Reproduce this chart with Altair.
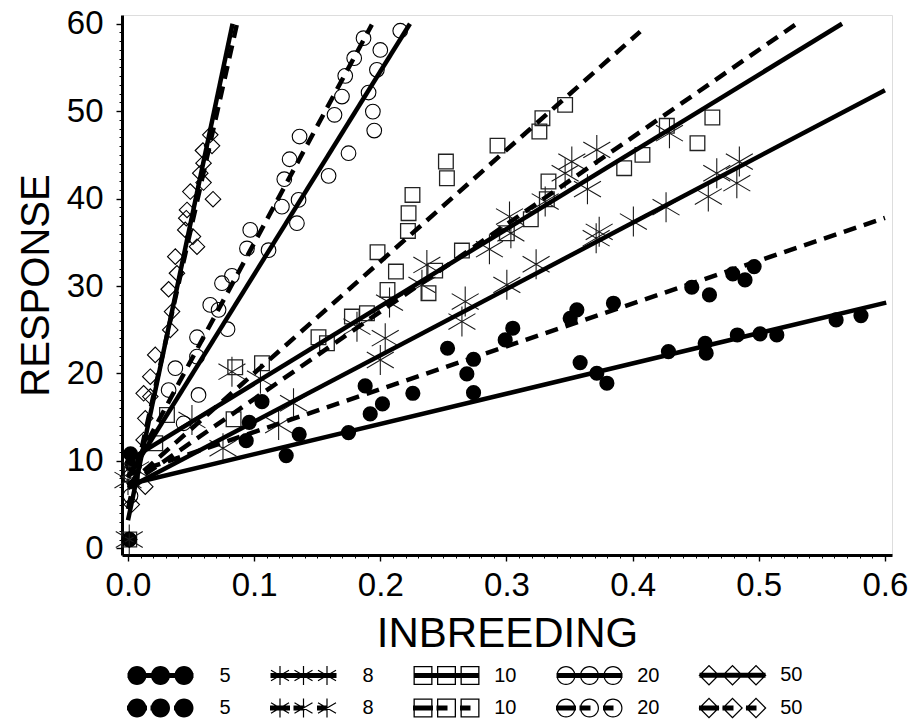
import altair as alt
import pandas as pd

# ---------------- data ----------------
# observed response against inbreeding, one list pair per population size
x5 = [0.001, 0.002, 0.003, 0.0937, 0.0961, 0.1062, 0.1254, 0.1357, 0.1748, 0.188, 0.192,
      0.2017, 0.2258, 0.2533, 0.2686, 0.2739, 0.2739, 0.299, 0.305, 0.3505, 0.3558, 0.3584,
      0.3716, 0.3796, 0.3848, 0.4284, 0.4469, 0.4575, 0.4583, 0.4609, 0.4794, 0.483, 0.4891,
      0.4963, 0.501, 0.5143, 0.5613, 0.581]
y5 = [1.0, 10.8, 9.6, 12.31, 14.41, 16.77, 10.6, 13.04, 13.23, 18.57, 15.37,
      16.51, 17.73, 22.88, 19.94, 21.62, 17.8, 23.83, 25.17, 26.3, 27.27, 21.24,
      20.02, 18.88, 28.03, 22.5, 29.86, 23.45, 22.31, 28.98, 31.38, 24.4, 30.7,
      32.22, 24.52, 24.4, 26.12, 26.62]

x8 = [0.001, 0.0, 0.006, 0.0507, 0.0753, 0.0824, 0.105, 0.1194, 0.1312, 0.1815, 0.2,
      0.2039, 0.2073, 0.233, 0.2369, 0.2647, 0.2673, 0.2865, 0.3003, 0.3024, 0.3035,
      0.3235, 0.3307, 0.3465, 0.3518, 0.3642, 0.3711, 0.3716, 0.3735, 0.4006, 0.4265,
      0.4292, 0.46, 0.4667, 0.4826, 0.4846]
y8 = [1.0, 7.8, 9.0, 14.68, 11.44, 20.2, 19.4, 14.1, 16.59, 25.35, 21.54,
      24.03, 28.1, 30.13, 32.41, 25.93, 28.22, 34.21, 30.13, 37.94, 36.04,
      32.49, 39.66, 42.9, 44.23, 41.08, 35.47, 45.57, 36.2, 37.37, 39.02,
      47.48, 40.23, 42.9, 41.76, 44.23]

x10 = [0.001, 0.003, 0.0216, 0.0309, 0.0837, 0.085, 0.1062, 0.151, 0.1577, 0.1775, 0.1894,
       0.1978, 0.2057, 0.2124, 0.2219, 0.2224, 0.2255, 0.2382, 0.2435, 0.252, 0.2528,
       0.2647, 0.2929, 0.3003, 0.3193, 0.3261, 0.3285, 0.332, 0.3333, 0.3465, 0.3933,
       0.4078, 0.4271, 0.4514, 0.4632]
y10 = [1.0, 8.5, 12.01, 15.25, 14.76, 20.71, 21.17, 24.14, 23.45, 26.5, 26.89,
       33.87, 29.55, 31.65, 36.3, 38.33, 40.42, 29.18, 31.76, 44.23, 42.33,
       34.05, 46.06, 36.04, 37.64, 47.67, 49.2, 39.93, 41.95, 50.72, 43.48,
       45.0, 48.32, 46.34, 49.27]

x20 = [0.001, 0.002, 0.005, 0.0322, 0.0375, 0.0441, 0.0547, 0.0547, 0.0559, 0.0652, 0.0718,
       0.0745, 0.0789, 0.0824, 0.0943, 0.0969, 0.1114, 0.122, 0.1239, 0.1281, 0.1339,
       0.1352, 0.136, 0.159, 0.1637, 0.1696, 0.1722, 0.1748, 0.1793, 0.1867, 0.1907,
       0.1941, 0.1952, 0.1973, 0.2, 0.2158]
y20 = [1.0, 6.0, 9.5, 18.1, 20.6, 14.3, 24.14, 21.92, 17.54, 27.84, 27.27,
       30.32, 25.06, 31.16, 34.3, 36.42, 34.1, 39.08, 42.22, 44.5, 37.18,
       39.85, 47.1, 42.6, 49.58, 51.67, 54.04, 45.19, 56.06, 58.35, 52.13,
       49.95, 47.78, 54.73, 57.0, 59.2]

x50 = [0.001, 0.0, 0.003, 0.0124, 0.0137, 0.0124, 0.0137, 0.0177, 0.0177, 0.0216, 0.0335,
       0.0349, 0.0322, 0.0388, 0.0375, 0.0454, 0.0462, 0.0468, 0.0494, 0.0515, 0.0547,
       0.0573, 0.0594, 0.0599, 0.0599, 0.0652, 0.0666, 0.0674]
y50 = [1.0, 8.2, 5.0, 17.73, 14.87, 12.39, 7.05, 19.63, 17.35, 22.12, 24.98,
       27.07, 29.63, 31.46, 33.36, 36.42, 37.76, 38.7, 40.8, 35.65, 34.5,
       42.9, 45.5, 44.05, 41.83, 47.3, 46.03, 39.93]

# fitted response lines: population size, fit type, start and end points
line_n = ["5", "5", "8", "8", "10", "10", "20", "20", "50", "50"]
line_kind = ["solid", "dashed"] * 5
line_x0 = [0.0, 0.0, 0.0, 0.0, 0.0, 0.0, 0.0, 0.0, 0.0, 0.0]
line_y0 = [7.3, 8.4, 6.9, 7.1, 10.0, 7.25, 8.1, 8.1, 3.2, 4.5]
line_x1 = [0.601, 0.600, 0.600, 0.529, 0.566, 0.406, 0.2235, 0.1933, 0.0829, 0.0864]
line_y1 = [28.1, 37.8, 52.4, 59.9, 60.0, 59.1, 60.0, 59.9, 60.0, 60.0]

legend_labels = ["5", "8", "10", "20", "50"]

# axis tick positions
x_major = [0.0, 0.1, 0.2, 0.3, 0.4, 0.5, 0.6]
x_minor = [round(i * 0.01, 2) for i in range(61)]
y_major = [0, 10, 20, 30, 40, 50, 60]
y_minor = list(range(61))

# ---------------- tables ----------------
groups = {"5": (x5, y5), "8": (x8, y8), "10": (x10, y10), "20": (x20, y20), "50": (x50, y50)}
pts = pd.DataFrame(
    [{"n": n, "inbreeding": x, "response": y} for n, (xs, ys) in groups.items() for x, y in zip(xs, ys)]
)
rows = []
for i in range(len(line_n)):
    key = f"{line_n[i]} {line_kind[i]}"
    rows.append({"key": key, "kind": line_kind[i], "inbreeding": line_x0[i], "response": line_y0[i]})
    rows.append({"key": key, "kind": line_kind[i], "inbreeding": line_x1[i], "response": line_y1[i]})
lines = pd.DataFrame(rows)

# ---------------- legend glyphs (filled SVG paths, px units then normalised) ----------------
SYM = 20.0        # nominal legend symbol box (px); glyphs are drawn wider than it
U = SYM / 2       # px per path unit
HALF = 33.5       # half width of a three-symbol glyph (px)


def f(v):
    return f"{v / U:.4f}"


def poly(p, hole=False):
    area = sum(a[0] * b[1] - b[0] * a[1] for a, b in zip(p, p[1:] + p[:1]))
    if (area < 0) != hole:
        p = p[::-1]
    return "M" + "L".join(f"{f(x)},{f(y)}" for x, y in p) + "Z"


def circ(cx, r, hole=False):
    s = 0 if hole else 1
    return (f"M{f(cx + r)},0A{f(r)},{f(r)} 0 1 {s} {f(cx - r)},0"
            f"A{f(r)},{f(r)} 0 1 {s} {f(cx + r)},0Z")


def seg(x0, y0, x1, y1, w):
    dx, dy = x1 - x0, y1 - y0
    ln = (dx * dx + dy * dy) ** 0.5
    nx, ny = -dy / ln * w, dx / ln * w
    return poly([(x0 + nx, y0 + ny), (x1 + nx, y1 + ny), (x1 - nx, y1 - ny), (x0 - nx, y0 - ny)])


def bar(x0, x1, h=2.6):
    return poly([(x0, -h), (x1, -h), (x1, h), (x0, h)])


R = 9.5


def disc(c):
    return circ(c, R)


def ring(c):
    return circ(c, R) + circ(c, R - 1.2, True)


def square(c):
    a, b = R, R - 1.3
    return (poly([(c - a, -a), (c + a, -a), (c + a, a), (c - a, a)])
            + poly([(c - b, -b), (c + b, -b), (c + b, b), (c - b, b)], True))


def diamond(c):
    a, b = R + 1, R - 0.8
    return (poly([(c - a, 0), (c, -a), (c + a, 0), (c, a)])
            + poly([(c - b, 0), (c, -b), (c + b, 0), (c, b)], True))


def star(c):
    w = 0.6
    return seg(c, -R, c, R, w) + seg(c - 9, -5.2, c + 9, 5.2, w) + seg(c - 9, 5.2, c + 9, -5.2, w)


centres = [-23.5, 0.0, 23.5]
glyphs = [disc, star, square, ring, diamond]
solid_bar = [(-33, 33)]
dash_bar = [(-33.5, -13.5), (-10, 1), (13.5, 24)]

legend_keys, legend_paths = [], []
for kind, bars in (("solid", solid_bar), ("dashed", dash_bar)):
    for lab, g in zip(legend_labels, glyphs):
        legend_keys.append(f"{lab} {kind}")
        legend_paths.append("".join(g(c) for c in centres) + "".join(bar(a, b) for a, b in bars))

# ---------------- chart ----------------
FONT = "Liberation Sans"
LEG_FONT = 20
xs = alt.Scale(domain=[-0.00475, 0.6056], nice=False, zero=False)
ys = alt.Scale(domain=[-0.77, 61.0], nice=False, zero=False)

x_axis = alt.Axis(
    values=x_major, format=".1f", title="INBREEDING", grid=False, orient="bottom",
    tickSize=6, labelFontSize=33, labelFont=FONT, labelColor="black", labelPadding=8,
    titleFontSize=42, titleFont=FONT, titleFontWeight="normal", titleColor="black", titlePadding=11,
    domainColor="black", domainWidth=3, tickColor="black", tickWidth=1.4,
)
y_axis = alt.Axis(
    values=y_major, format="d", title="RESPONSE", grid=False, orient="left",
    tickSize=6, labelFontSize=33, labelFont=FONT, labelColor="black", labelPadding=13,
    titleFontSize=40, titleFont=FONT, titleFontWeight="normal", titleColor="black", titlePadding=10,
    domainColor="black", domainWidth=3, tickColor="black", tickWidth=1.4,
)
x_minor_axis = alt.Axis(values=x_minor, labels=False, title=None, grid=False, domain=False,
                        orient="bottom", tickSize=3, tickColor="black", tickWidth=1)
y_minor_axis = alt.Axis(values=y_minor, labels=False, title=None, grid=False, domain=False,
                        orient="left", tickSize=3, tickColor="black", tickWidth=1)

X = alt.X("inbreeding:Q", scale=xs, axis=x_axis)
Y = alt.Y("response:Q", scale=ys, axis=y_axis)
Xn = alt.X("inbreeding:Q", scale=xs, axis=None)
Yn = alt.Y("response:Q", scale=ys, axis=None)

base_pts = alt.Chart(pts)
star_path = "M0,-1L0,1M-0.9,-0.53L0.9,0.53M-0.9,0.53L0.9,-0.53"

minor = base_pts.transform_filter("false").mark_point().encode(
    x=alt.X("inbreeding:Q", scale=xs, axis=x_minor_axis),
    y=alt.Y("response:Q", scale=ys, axis=y_minor_axis),
)
p5 = base_pts.transform_filter("datum.n == '5'").mark_point(
    shape="circle", filled=True, size=230, color="black", opacity=1).encode(x=X, y=Y)
p8 = base_pts.transform_filter("datum.n == '8'").mark_point(
    shape=star_path, filled=False, size=900, color="#1a1a1a", strokeWidth=1.1, opacity=1).encode(x=Xn, y=Yn)
p10 = base_pts.transform_filter("datum.n == '10'").mark_point(
    shape="square", filled=False, size=215, color="#222222", strokeWidth=1.3, opacity=1).encode(x=Xn, y=Yn)
p20 = base_pts.transform_filter("datum.n == '20'").mark_point(
    shape="circle", filled=False, size=215, color="black", strokeWidth=1.1, opacity=1).encode(x=Xn, y=Yn)
p50 = base_pts.transform_filter("datum.n == '50'").mark_point(
    shape="diamond", filled=False, size=240, color="black", strokeWidth=1.1, opacity=1).encode(x=Xn, y=Yn)

solid = alt.Chart(lines).transform_filter("datum.kind == 'solid'").mark_line(
    color="black", strokeWidth=4.5, strokeCap="butt").encode(x=Xn, y=Yn, detail="key:N")
dashed = alt.Chart(lines).transform_filter("datum.kind == 'dashed'").mark_line(
    color="black", strokeWidth=4.5, strokeCap="butt", strokeDash=[13, 8]).encode(x=Xn, y=Yn, detail="key:N")

# the glyph is shifted so its left edge sits at the entry origin; labels are right-aligned
entry = max(SYM, LEG_FONT)
key_layer = alt.Chart(lines).transform_filter("false").mark_point(
    filled=True, color="black", opacity=1).encode(
    x=Xn, y=Yn,
    shape=alt.Shape(
        "key:N",
        scale=alt.Scale(domain=legend_keys, range=legend_paths),
        legend=alt.Legend(
            title=None, orient="none", legendX=5, legendY=675 - 15 - entry / 2,
            direction="horizontal", columns=5, gridAlign="all", columnPadding=38, rowPadding=11,
            padding=0, symbolSize=SYM ** 2, symbolStrokeWidth=0, symbolFillColor="black",
            symbolOpacity=1, symbolOffset=HALF - entry / 2,
            labelOffset=60, labelAlign="right", labelFontSize=LEG_FONT, labelFont=FONT,
            labelColor="black", labelExpr="split(datum.label, ' ')[0]", symbolLimit=20,
        ),
    ),
)

chart = alt.layer(minor, p5, p8, p10, p20, p50, solid, dashed, key_layer).resolve_axis(
    x="independent", y="independent"
).properties(
    width=770, height=540,
    autosize=alt.AutoSizeParams(type="none"),
    padding={"left": 122, "top": 15, "right": 23, "bottom": 167},
).configure_view(stroke=None).configure(background="white")

chart.save("out.html", embed_options={"renderer": "svg", "actions": False})
